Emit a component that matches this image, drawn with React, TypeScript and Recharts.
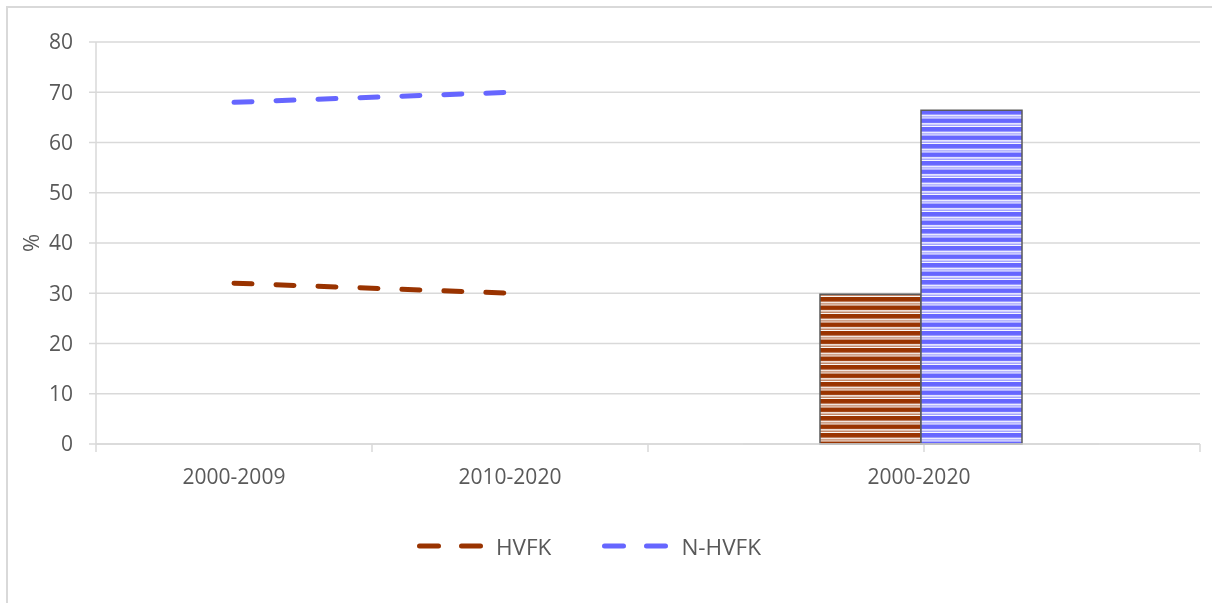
import { Bar, BarChart, CartesianGrid, Line, LineChart, XAxis, YAxis } from "recharts";

// line part: two decades, then two empty slots (the bar sits over them)
const PERIODS = ["2000-2009", "2010-2020", "", " "];
const HVFK_TREND = [32, 30, null, null];
const NHVFK_TREND = [68, 70, null, null];

// bar part: whole period
const TOTAL_PERIOD = ["2000-2020"];
const HVFK_TOTAL = [29.8];
const NHVFK_TOTAL = [66.4];

const Y_TICKS = [0, 10, 20, 30, 40, 50, 60, 70, 80];
const LEGEND = [
  { name: "HVFK", color: "#993300" },
  { name: "N-HVFK", color: "#6666ff" },
];

const BROWN = "#993300";
const BLUE = "#6666ff";
const GRID = "#d9d9d9";
const TEXT = "#595959";
const FONT = "'Open Sans', sans-serif";

const W = 1204;
const H = 520;
const Y_W = 60;
const MARGIN = { top: 34, right: 12, left: 28, bottom: 44 };
const BAND = (W - MARGIN.left - Y_W - MARGIN.right) / PERIODS.length;

const lineData = PERIODS.map((p, i) => ({ period: p, hvfk: HVFK_TREND[i], nhvfk: NHVFK_TREND[i] }));
const barData = TOTAL_PERIOD.map((p, i) => ({ period: p, hvfk: HVFK_TOTAL[i], nhvfk: NHVFK_TOTAL[i] }));

function PeriodTick({ x, y, payload, index }: any) {
  const half = BAND / 2;
  const label = String(payload.value).trim();
  return (
    <g>
      <line x1={x - half} x2={x - half} y1={y - 8} y2={y} stroke={GRID} strokeWidth={1.5} />
      {index === PERIODS.length - 1 && (
        <line x1={x + half} x2={x + half} y1={y - 8} y2={y} stroke={GRID} strokeWidth={1.5} />
      )}
      {label && (
        <text x={x} y={y + 32} textAnchor="middle" fill={TEXT} fontSize={21} fontFamily={FONT}>
          {label}
        </text>
      )}
    </g>
  );
}

function TotalTick({ x, y, payload }: any) {
  return (
    <text x={x - 2} y={y + 32} textAnchor="middle" fill={TEXT} fontSize={21} fontFamily={FONT}>
      {payload.value}
    </text>
  );
}

function Stripes({ id, color }: { id: string; color: string }) {
  return (
    <pattern id={id} patternUnits="userSpaceOnUse" width={10} height={8.5}>
      <rect width={10} height={8.5} fill="#fff" />
      <rect y={0} width={10} height={4.6} fill={color} />
      <rect y={6} width={10} height={1.6} fill={color} opacity={0.6} />
    </pattern>
  );
}

export default function App() {
  return (
    <div style={{ position: "relative", width: W, height: 595, fontFamily: FONT }}>
      <div
        style={{
          position: "fixed",
          left: 6,
          top: 6,
          width: 1206,
          height: 597,
          borderTop: `2px solid ${GRID}`,
          borderLeft: `2px solid ${GRID}`,
          boxSizing: "border-box",
          pointerEvents: "none",
        }}
      />
      <div style={{ position: "absolute", left: 0, top: 0 }}>
        <LineChart width={W} height={H} data={lineData} margin={MARGIN}>
          <CartesianGrid vertical={false} stroke={GRID} strokeWidth={1.5} />
          <XAxis
            dataKey="period"
            scale="band"
            height={40}
            interval={0}
            axisLine={{ stroke: GRID, strokeWidth: 1.5 }}
            tickLine={false}
            tickSize={8}
            tickMargin={0}
            tick={<PeriodTick />}
          />
          <YAxis
            width={Y_W}
            domain={[0, 80]}
            ticks={Y_TICKS}
            interval={0}
            axisLine={{ stroke: GRID, strokeWidth: 1.5 }}
            tickLine={{ stroke: GRID, strokeWidth: 1.5 }}
            tickSize={7}
            tickMargin={16}
            tick={{ fill: TEXT, fontSize: 21, fontFamily: FONT }}
          />
          <Line
            type="linear"
            dataKey="hvfk"
            stroke={BROWN}
            strokeWidth={5}
            strokeDasharray="18 24"
            strokeLinecap="round"
            dot={false}
            isAnimationActive={false}
          />
          <Line
            type="linear"
            dataKey="nhvfk"
            stroke={BLUE}
            strokeWidth={5}
            strokeDasharray="18 24"
            strokeLinecap="round"
            dot={false}
            isAnimationActive={false}
          />
        </LineChart>
      </div>
      <div style={{ position: "absolute", left: 712, top: 0 }}>
        <BarChart
          width={400}
          height={H}
          data={barData}
          margin={{ top: MARGIN.top, right: 21, left: 23, bottom: MARGIN.bottom }}
          barGap={0}
        >
          <defs>
            <Stripes id="stripeBrown" color={BROWN} />
            <Stripes id="stripeBlue" color={BLUE} />
          </defs>
          <XAxis
            dataKey="period"
            height={40}
            axisLine={{ stroke: GRID, strokeWidth: 1.5 }}
            tickLine={false}
            tickSize={8}
            tickMargin={0}
            tick={<TotalTick />}
          />
          <YAxis hide domain={[0, 80]} />
          <Bar
            dataKey="hvfk"
            barSize={101}
            fill="url(#stripeBrown)"
            stroke="#5a5a5a"
            strokeWidth={1.5}
            isAnimationActive={false}
          />
          <Bar
            dataKey="nhvfk"
            barSize={101}
            fill="url(#stripeBlue)"
            stroke="#5a5a5a"
            strokeWidth={1.5}
            isAnimationActive={false}
          />
        </BarChart>
      </div>
      <div
        style={{
          position: "absolute",
          left: 22,
          top: 235,
          transform: "translate(-50%, -50%) rotate(-90deg)",
          color: TEXT,
          fontSize: 22,
          lineHeight: 1,
        }}
      >
        %
      </div>
      <div
        style={{
          position: "absolute",
          left: 409,
          top: 523,
          height: 30,
          display: "flex",
          alignItems: "center",
          gap: 51,
          color: TEXT,
          fontSize: 22.5,
        }}
      >
        {LEGEND.map((l) => (
          <div key={l.name} style={{ display: "flex", alignItems: "center", gap: 13 }}>
            <svg width={66} height={10}>
              <line
                x1={2.5}
                x2={63.5}
                y1={5}
                y2={5}
                stroke={l.color}
                strokeWidth={5}
                strokeDasharray="19 23"
                strokeLinecap="round"
              />
            </svg>
            <span>{l.name}</span>
          </div>
        ))}
      </div>
    </div>
  );
}
